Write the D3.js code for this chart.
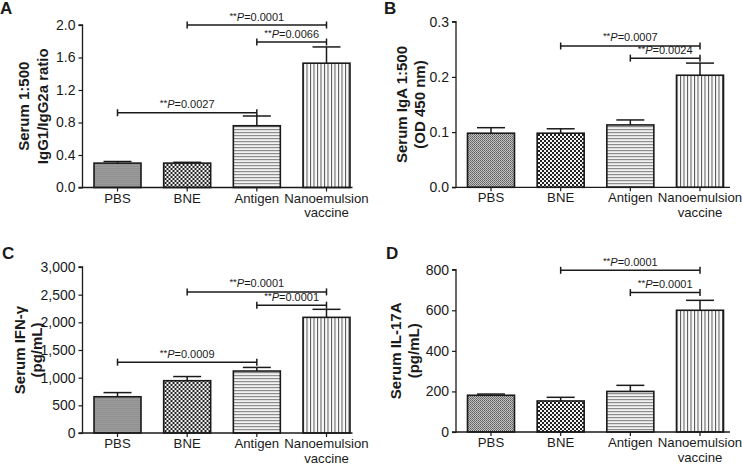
<!DOCTYPE html>
<html><head><meta charset="utf-8">
<script src="https://cdn.jsdelivr.net/npm/d3@7"></script>
<style>
body{margin:0;background:#fff}
svg{display:block}
text{font-family:"Liberation Sans",Arial,sans-serif;fill:#1a1a1a}
</style>
</head><body>
<svg id="chart" width="742" height="465"></svg>
<script>
// ---- data ----
const categories = ["PBS", "BNE", "Antigen", "Nanoemulsion vaccine"];
const categoryLines = [["PBS"], ["BNE"], ["Antigen"], ["Nanoemulsion", "vaccine"]];
const patternIds = ["pPBS", "pBNE", "pAntigen", "pNano"];

const igRatio = [0.30, 0.30, 0.76, 1.53];
const igRatioErr = [0.02, 0.01, 0.12, 0.20];
const igRatioTicks = [0, 0.4, 0.8, 1.2, 1.6, 2.0];
const igRatioBrackets = [
  {from: 1, to: 3, y: 2.0, p: "0.0001"},
  {from: 2, to: 3, y: 1.79, p: "0.0066"},
  {from: 0, to: 2, y: 0.92, p: "0.0027"}
];

const igA = [0.098, 0.098, 0.113, 0.203];
const igAErr = [0.010, 0.008, 0.009, 0.022];
const igATicks = [0, 0.1, 0.2, 0.3];
const igABrackets = [
  {from: 1, to: 3, y: 0.256, p: "0.0007"},
  {from: 2, to: 3, y: 0.234, p: "0.0024"}
];

const ifn = [655, 945, 1120, 2090];
const ifnErr = [75, 75, 65, 145];
const ifnTicks = [0, 500, 1000, 1500, 2000, 2500, 3000];
const ifnBrackets = [
  {from: 1, to: 3, y: 2550, p: "0.0001"},
  {from: 2, to: 3, y: 2310, p: "0.0001"},
  {from: 0, to: 2, y: 1280, p: "0.0009"}
];

const il17 = [181, 153, 200, 600];
const il17Err = [6, 18, 30, 49];
const il17Ticks = [0, 200, 400, 600, 800];
const il17Brackets = [
  {from: 1, to: 3, y: 797, p: "0.0001"},
  {from: 2, to: 3, y: 687, p: "0.0001"}
];

// ---- layout ----
const panels = [
  {letter: "A", values: igRatio, errors: igRatioErr, ticks: igRatioTicks, brackets: igRatioBrackets,
   fmt: d3.format(".1f"), label: ["Serum 1:500", "IgG1/IgG2a ratio"],
   ox: 82.5, y0: 187.5, yTop: 25, axisLen: 270, lx: [-59, -40], lp: [0, 14]},
  {letter: "B", values: igA, errors: igAErr, ticks: igATicks, brackets: igABrackets,
   fmt: d3.format(".1f"), label: ["Serum IgA 1:500", "(OD 450 nm)"],
   ox: 456, y0: 187.3, yTop: 21.7, axisLen: 274, lx: [-55, -37], lp: [384, 14]},
  {letter: "C", values: ifn, errors: ifnErr, ticks: ifnTicks, brackets: ifnBrackets,
   fmt: d3.format(","), label: ["Serum IFN-\u03b3", "(pg/mL)"],
   ox: 82.5, y0: 433, yTop: 267, axisLen: 270, lx: [-63, -46], lp: [2, 259]},
  {letter: "D", values: il17, errors: il17Err, ticks: il17Ticks, brackets: il17Brackets,
   fmt: d3.format(","), label: ["Serum IL-17A", "(pg/mL)"],
   ox: 456, y0: 432, yTop: 269.7, axisLen: 274, lx: [-61, -43], lp: [386, 259]}
];

const svg = d3.select("#chart");
const defs = svg.append("defs");

// patterns
(function () {
  const p1 = defs.append("pattern").attr("id", "pPBS").attr("patternUnits", "userSpaceOnUse")
    .attr("width", 2).attr("height", 2);
  p1.append("rect").attr("width", 2).attr("height", 2).attr("fill", "#c2c2c2");
  p1.append("rect").attr("width", 1).attr("height", 1).attr("fill", "#5e5e5e");
  p1.append("rect").attr("x", 1).attr("y", 1).attr("width", 1).attr("height", 1).attr("fill", "#747474");

  const p2 = defs.append("pattern").attr("id", "pBNE").attr("patternUnits", "userSpaceOnUse")
    .attr("width", 4).attr("height", 4);
  p2.append("rect").attr("width", 4).attr("height", 4).attr("fill", "#f4f4f4");
  p2.append("rect").attr("width", 2).attr("height", 2).attr("fill", "#222");
  p2.append("rect").attr("x", 2).attr("y", 2).attr("width", 2).attr("height", 2).attr("fill", "#222");

  const p3 = defs.append("pattern").attr("id", "pAntigen").attr("patternUnits", "userSpaceOnUse")
    .attr("width", 4).attr("height", 3);
  p3.append("rect").attr("width", 4).attr("height", 3).attr("fill", "#f2f2f2");
  p3.append("rect").attr("y", 0).attr("width", 4).attr("height", 1.2).attr("fill", "#8c8c8c");

  const p4 = defs.append("pattern").attr("id", "pNano").attr("patternUnits", "userSpaceOnUse")
    .attr("width", 3.5).attr("height", 4);
  p4.append("rect").attr("width", 3.5).attr("height", 4).attr("fill", "#fafafa");
  p4.append("rect").attr("x", 0).attr("width", 1).attr("height", 4).attr("fill", "#555");
})();

const barW = 47;
const ink = "#1a1a1a";

panels.forEach(P => {
  const g = svg.append("g").attr("transform", `translate(${P.ox},0)`);
  const x = d3.scalePoint().domain(categories).range([35, 244]);
  const y = d3.scaleLinear().domain([0, d3.max(P.ticks)]).range([P.y0, P.yTop]);

  // bars
  g.selectAll("rect.bar").data(P.values).join("rect")
    .attr("class", "bar")
    .attr("x", (d, i) => x(categories[i]) - barW / 2)
    .attr("width", barW)
    .attr("y", d => y(d))
    .attr("height", d => y(0) - y(d))
    .attr("fill", (d, i) => `url(#${patternIds[i]})`)
    .attr("stroke", ink).attr("stroke-width", 1.6);

  // error bars (upper only)
  P.values.forEach((v, i) => {
    const cx = x(categories[i]);
    const top = y(v + P.errors[i]);
    g.append("line").attr("x1", cx).attr("x2", cx).attr("y1", y(v)).attr("y2", top)
      .attr("stroke", ink).attr("stroke-width", 1.5);
    g.append("line").attr("x1", cx - 14).attr("x2", cx + 14).attr("y1", top).attr("y2", top)
      .attr("stroke", ink).attr("stroke-width", 1.5);
  });

  // y axis
  const yAxis = d3.axisLeft(y).tickValues(P.ticks).tickFormat(P.fmt).tickSize(4).tickPadding(3);
  const ya = g.append("g").call(yAxis);
  ya.select(".domain").attr("stroke", ink).attr("stroke-width", 1.3).attr("d", `M-4,${y(d3.max(P.ticks))}H0V${P.y0}H-4`);
  ya.selectAll(".tick line").attr("stroke", ink).attr("stroke-width", 1.2);
  ya.selectAll(".tick text").attr("font-size", 14).attr("fill", ink)
    .style("font-family", '"Liberation Sans",Arial,sans-serif');

  // x axis
  const xa = g.append("g").attr("transform", `translate(0,${P.y0})`);
  xa.append("line").attr("x1", 0).attr("x2", P.axisLen).attr("y1", 0).attr("y2", 0)
    .attr("stroke", ink).attr("stroke-width", 1.3);
  categories.forEach((c, i) => {
    const cx = x(c);
    xa.append("line").attr("x1", cx).attr("x2", cx).attr("y1", 0).attr("y2", 4)
      .attr("stroke", ink).attr("stroke-width", 1.2);
    const t = xa.append("text").attr("x", cx).attr("y", 15).attr("text-anchor", "middle")
      .attr("font-size", 13.2);
    categoryLines[i].forEach((ln, k) => {
      t.append("tspan").attr("x", cx).attr("dy", k === 0 ? 0 : 14.5).text(ln);
    });
  });

  // y label
  const midY = (P.y0 + y(d3.max(P.ticks))) / 2;
  P.label.forEach((ln, k) => {
    g.append("text").attr("transform", `translate(${P.lx[k]},${midY}) rotate(-90)`)
      .attr("text-anchor", "middle").attr("dominant-baseline", "central")
      .attr("font-size", 15).attr("font-weight", "bold").text(ln);
  });

  // significance brackets
  P.brackets.forEach(b => {
    const x1 = x(categories[b.from]), x2 = x(categories[b.to]), yy = y(b.y);
    g.append("line").attr("x1", x1).attr("x2", x2).attr("y1", yy).attr("y2", yy)
      .attr("stroke", ink).attr("stroke-width", 1.5);
    [x1, x2].forEach(xx => g.append("line").attr("x1", xx).attr("x2", xx)
      .attr("y1", yy - 3.5).attr("y2", yy + 3.5).attr("stroke", ink).attr("stroke-width", 1.5));
    const t = g.append("text").attr("x", (x1 + x2) / 2).attr("y", yy - 4.5)
      .attr("text-anchor", "middle").attr("font-size", 11);
    t.append("tspan").attr("font-size", 9.5).attr("dy", -2).text("**");
    t.append("tspan").attr("font-style", "italic").attr("dy", 2).text("P");
    t.append("tspan").text("=" + b.p);
  });

  // panel letter
  svg.append("text").attr("x", P.lp[0]).attr("y", P.lp[1]).attr("font-size", 17)
    .attr("font-weight", "bold").text(P.letter);
});
</script>
</body></html>
